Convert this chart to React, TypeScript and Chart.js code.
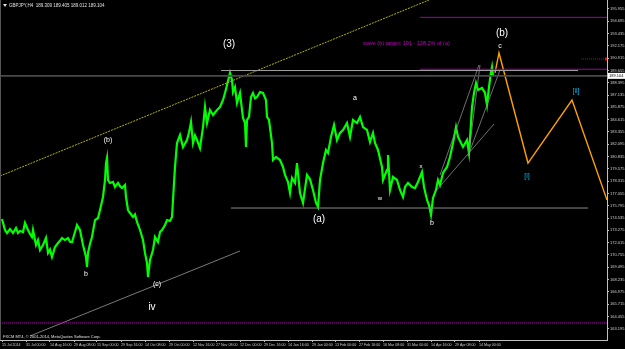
import React, { useEffect, useRef } from "react";
import { Chart, registerables } from "chart.js";
Chart.register(...registerables);

// ---- data ----
const priceBars = [2,5,7,10,13,16,18,20,23,25,28,30,32,33,36,38,40,43,46,48,50,52,55,58,60,62,65,68,70,72,75,77,80,83,86,87,88,90,92,95,98,100,103,105,106,107,108,110,113,115,118,120,122,125,126,128,130,133,135,137,140,143,145,147,148,150,153,155,158,160,162,165,167,170,172,173,175,177,180,183,187,189,191,193,195,197,200,203,205,207,210,213,217,220,223,225,227,230,232,233,235,237,240,242,243,245,246,247,249,251,253,255,257,260,263,266,267,269,272,273,276,280,283,285,288,290,292,295,297,300,303,307,310,313,316,318,320,323,326,328,331,334,337,340,343,347,350,353,357,360,363,367,370,373,375,378,382,383,387,388,390,393,397,400,403,405,408,412,415,418,422,424,427,429,431,433,436,438,440,443,447,450,453,456,458,461,463,467,469,471,472,474,476,478,482,485,487,489,491,492,493];
const priceCloses = [174.44,173.31,173.0,173.41,173.0,173.51,173.0,173.2,173.1,174.03,173.31,172.9,172.59,173.31,171.77,172.28,171.26,171.77,172.49,170.95,171.3,170.54,171.57,171.98,172.2,172.49,172.28,172.49,172.1,172.08,173.1,173.82,173.31,171.77,170.54,169.52,170.95,171.9,172.59,174.33,174.54,175.36,176.69,178.43,180.17,180.69,178.43,178.13,178.23,177.72,178.13,177.8,177.61,177.92,176.69,175.36,175.05,174.64,174.9,174.13,173.31,172.28,170.95,169.93,168.49,170.24,171.26,172.59,172.08,173.1,173.31,173.82,174.33,174.23,174.64,176.38,179.77,182.22,183.04,181.81,182.53,183.3,184.38,182.22,183.0,182.53,181.71,183.86,185.91,184.27,185.61,185.09,185.61,185.91,186.63,187.35,188.17,189.4,188.68,187.45,187.96,186.32,187.35,185.61,184.79,184.27,181.81,184.58,184.89,186.94,187.35,186.8,186.94,187.45,187.35,186.63,184.89,184.58,182.22,180.48,180.79,180.48,179.77,178.95,178.23,177.1,178.64,178.13,180.17,177.1,176.08,178.95,178.5,177.41,176.08,175.67,178.43,180.17,181.51,181.2,182.84,184.07,182.53,183.25,183.56,184.27,182.84,184.58,184.27,184.89,183.86,183.56,182.33,183.25,182.22,181.51,179.77,178.43,179.46,180.99,177.41,178.74,178.43,177.41,176.69,177.72,178.13,177.72,177.61,178.23,179.25,177.72,176.38,175.87,174.85,176.59,177.41,178.43,177.92,179.15,179.77,180.79,182.22,183.86,182.84,182.22,181.81,182.53,181.2,184.27,185.91,187.35,188.37,187.66,187.86,187.35,186.12,187.96,189.5,190.01,189.1];

const projectionBars = [495, 499, 528, 572, 607];
const projectionPrices = [189.4, 191.45, 180.17, 186.63, 176.38];

const upperTrendBars = [0, 429];
const upperTrendPrices = [178.84, 196.877];
const lowerTrendBars = [30, 240];
const lowerTrendPrices = [162.45, 171.16];

const fanLines = [
  { bars: [435, 494], prices: [177.2, 184.17] },
  { bars: [440, 479], prices: [178.95, 190.22] },
  { bars: [468, 500], prices: [180.89, 189.7] },
  { bars: [469, 480], prices: [181.3, 190.22] },
];

const bidPrice = 189.104;
const headerText = "GBPJPY,H4  189.309 189.405 189.012 189.104";
const footerText = "FXCM MT4, \u00a9 2001-2014, MetaQuotes Software Corp.";

const xTickBars = [2, 26, 50, 74, 97, 121, 145, 169, 193, 216, 240, 264, 288, 312, 335, 359, 383, 407, 431, 455, 479];
const xTickLabels = ["15 Jul 2014","31 Jul 00:00","14 Aug 16:00","29 Aug 08:00","15 Sep 00:00","29 Sep 16:00","14 Oct 08:00","29 Oct 00:00","12 Nov 16:00","27 Nov 08:00","12 Dec 00:00","29 Dec 16:00","14 Jan 16:00","29 Jan 00:00","13 Feb 00:00","27 Feb 16:00","16 Mar 08:00","31 Mar 00:00","14 Apr 16:00","29 Apr 08:00","14 May 00:00"];
const yTickValues = [195.955,194.695,193.435,192.175,190.915,189.655,188.395,187.135,185.875,184.615,183.355,182.095,180.835,179.575,178.315,177.055,175.795,174.535,173.275,172.015,170.755,169.495,168.235,166.975,165.715,164.455,163.195];

const waveLabels = [
  { text: "(3)", bar: 229, price: 192.37, size: 10, color: "#ffffff" },
  { text: "(b)", bar: 502, price: 193.5, size: 10, color: "#ffffff" },
  { text: "c", bar: 500, price: 192.16, size: 7, color: "#ffffff" },
  { text: "a", bar: 355, price: 186.83, size: 7, color: "#ffffff" },
  { text: "x", bar: 421, price: 179.87, size: 6, color: "#ffffff" },
  { text: "w", bar: 380, price: 176.59, size: 6, color: "#ffffff" },
  { text: "b", bar: 432, price: 174.03, size: 7, color: "#ffffff" },
  { text: "(a)", bar: 319, price: 174.44, size: 10, color: "#ffffff" },
  { text: "(b)", bar: 108, price: 182.53, size: 7, color: "#ffffff" },
  { text: "b", bar: 86, price: 168.8, size: 7, color: "#ffffff" },
  { text: "(c)", bar: 157, price: 167.78, size: 7, color: "#ffffff" },
  { text: "iv", bar: 152, price: 165.42, size: 10, color: "#ffffff" },
  { text: "[i]", bar: 527, price: 178.84, size: 7, color: "#00b4e6" },
  { text: "[ii]", bar: 576, price: 187.55, size: 7, color: "#00b4e6" },
];
const targetNote = { text: "wave (b) target: 191 - 138.2% of (a)", bar: 363, price: 192.47 };

const hLines = [
  { from: 231, to: 588, price: 175.56, color: "#8a8a8a", width: 1, dash: [] as number[] },
  { from: 221, to: 578, price: 189.65, color: "#a0a0a0", width: 1, dash: [] as number[] },
  { from: 0, to: 607, price: bidPrice, color: "#4a4a4a", width: 1.6, dash: [] as number[] },
  { from: 420, to: 607, price: 195.1, color: "#a000a0", width: 1, dash: [] as number[] },
  { from: 420, to: 607, price: 189.78, color: "#a000a0", width: 1, dash: [] as number[] },
  { from: 0, to: 607, price: 163.78, color: "#b000b0", width: 1, dash: [1, 1] },
  { from: 581, to: 607, price: 190.83, color: "#d00000", width: 1, dash: [1, 1] },
];

const FONT = "'Liberation Sans', Arial, sans-serif";

function pts(bars: number[], prices: number[]) {
  return bars.map((b, i) => ({ x: b, y: prices[i] }));
}

export default function App() {
  const ref = useRef<HTMLCanvasElement | null>(null);
  useEffect(() => {
    document.body.style.margin = "0";
    document.body.style.background = "#000";
    const canvas = ref.current;
    if (!canvas) return;

    const bgPlugin = {
      id: "bg",
      beforeDraw(chart: any) {
        const ctx = chart.ctx;
        ctx.save();
        ctx.fillStyle = "#000";
        ctx.fillRect(0, 0, chart.width, chart.height);
        ctx.restore();
      },
    };

    const annoPlugin = {
      id: "anno",
      afterDatasetsDraw(chart: any) {
        const ctx = chart.ctx;
        const xs = chart.scales.x;
        const ys = chart.scales.y;
        const area = chart.chartArea;
        ctx.save();
        ctx.strokeStyle = "#555";
        ctx.lineWidth = 1;
        ctx.beginPath();
        ctx.moveTo(area.left + 0.5, area.top);
        ctx.lineTo(area.left + 0.5, area.bottom);
        ctx.stroke();
        ctx.textAlign = "center";
        ctx.textBaseline = "middle";
        waveLabels.forEach((l) => {
          ctx.fillStyle = l.color;
          ctx.font = `${l.size}px ${FONT}`;
          ctx.fillText(l.text, xs.getPixelForValue(l.bar), ys.getPixelForValue(l.price));
        });
        ctx.textAlign = "left";
        ctx.fillStyle = "#c000c0";
        ctx.font = `5.5px ${FONT}`;
        ctx.fillText(targetNote.text, xs.getPixelForValue(targetNote.bar), ys.getPixelForValue(targetNote.price));
        ctx.fillStyle = "#e0e0e0";
        ctx.font = `4.5px ${FONT}`;
        ctx.beginPath();
        ctx.moveTo(3, 4);
        ctx.lineTo(7, 4);
        ctx.lineTo(5, 7);
        ctx.closePath();
        ctx.fill();
        ctx.fillText(headerText, 9, 5.5);
        ctx.font = `4px ${FONT}`;
        ctx.fillText(footerText, 3, area.bottom - 3);
        const by = ys.getPixelForValue(bidPrice);
        ctx.fillStyle = "#ffffff";
        ctx.fillRect(area.right + 1, by - 3, chart.width - area.right - 1, 6);
        ctx.fillStyle = "#000";
        ctx.font = `4px ${FONT}`;
        ctx.fillText(bidPrice.toFixed(3), area.right + 2, by + 0.3);
        const ry = ys.getPixelForValue(190.83);
        ctx.fillStyle = "#ff0000";
        ctx.fillRect(area.right - 2, ry - 1.5, 2, 3);
        ctx.restore();
      },
    };

    const lineDs = (data: any[], color: string, width: number, dash: number[] = []) => ({
      data,
      showLine: true,
      borderColor: color,
      borderWidth: width,
      borderDash: dash,
      pointRadius: 0,
      fill: false,
      tension: 0,
    });

    const datasets: any[] = [
      ...hLines.map((h) => lineDs([{ x: h.from, y: h.price }, { x: h.to, y: h.price }], h.color, h.width, h.dash)),
      lineDs(pts(upperTrendBars, upperTrendPrices), "#b4b400", 1, [2, 1]),
      lineDs(pts(lowerTrendBars, lowerTrendPrices), "#7a7a7a", 1),
      ...fanLines.map((f) => lineDs(pts(f.bars, f.prices), "#8c8c8c", 0.8)),
      lineDs(pts(priceBars, priceCloses), "#00ff00", 2.2),
      lineDs(pts(projectionBars, projectionPrices), "#ffa000", 1.4),
    ];

    const chart = new Chart(canvas, {
      type: "scatter",
      data: { datasets },
      plugins: [bgPlugin, annoPlugin],
      options: {
        animation: false,
        responsive: false,
        maintainAspectRatio: false,
        layout: { padding: 0 },
        plugins: { legend: { display: false }, tooltip: { enabled: false } },
        scales: {
          x: {
            type: "linear",
            position: "bottom",
            min: 0,
            max: 607,
            afterBuildTicks: (s: any) => {
              s.ticks = xTickBars.map((v) => ({ value: v }));
            },
            afterFit: (s: any) => {
              s.height = 9;
              s.paddingLeft = 0;
              s.paddingRight = 0;
            },
            ticks: {
              autoSkip: false,
              maxRotation: 0,
              minRotation: 0,
              align: "start",
              padding: 1,
              color: "#d0d0d0",
              font: { size: 3.6, family: FONT },
              callback: (v: any) => {
                const i = xTickBars.indexOf(Number(v));
                return i >= 0 ? xTickLabels[i] : "";
              },
            },
            grid: { drawOnChartArea: false, tickLength: 2, color: "#c0c0c0" },
            border: { display: true, color: "#c0c0c0" },
          },
          y: {
            type: "linear",
            position: "right",
            min: 162.037,
            max: 196.877,
            afterBuildTicks: (s: any) => {
              s.ticks = yTickValues.map((v) => ({ value: v }));
            },
            afterFit: (s: any) => {
              s.width = 18;
              s.paddingTop = 0;
              s.paddingBottom = 0;
            },
            ticks: {
              autoSkip: false,
              padding: 1,
              color: "#d0d0d0",
              font: { size: 4, family: FONT },
              callback: (v: any) => Number(v).toFixed(3),
            },
            grid: { drawOnChartArea: false, tickLength: 2, color: "#c0c0c0" },
            border: { display: true, color: "#c0c0c0" },
          },
        },
      } as any,
    });
    return () => chart.destroy();
  }, []);
  return (
    <div style={{ width: 625, height: 349, background: "#000" }}>
      <canvas ref={ref} width={625} height={349} style={{ display: "block" }} />
    </div>
  );
}
